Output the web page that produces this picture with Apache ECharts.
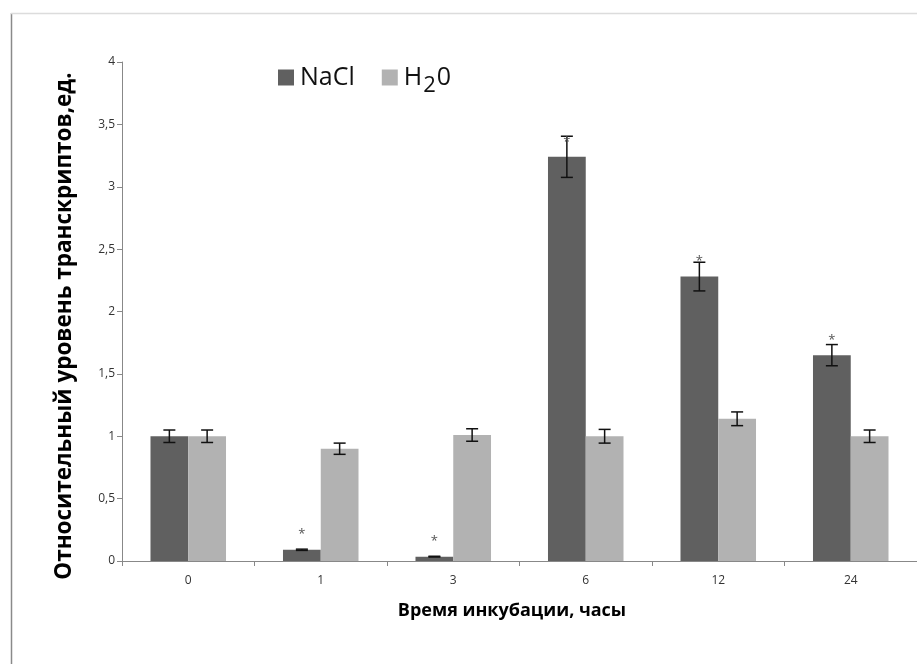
<!DOCTYPE html>
<html><head><meta charset="utf-8">
<script src="https://cdn.jsdelivr.net/npm/echarts@6/dist/echarts.min.js"></script>
<style>html,body{margin:0;padding:0;background:#fff}#c{width:917px;height:664px}</style>
</head><body><div id="c"></div>
<script>
var categories = ['0', '1', '3', '6', '12', '24'];
var naclValues = [1.0, 0.09, 0.035, 3.24, 2.28, 1.65];
var naclErrors = [0.05, 0.005, 0.003, 0.165, 0.115, 0.085];
var h2oValues = [1.0, 0.90, 1.01, 1.0, 1.14, 1.0];
var h2oErrors = [0.05, 0.045, 0.05, 0.055, 0.055, 0.05];
var naclSignificant = [false, true, true, true, true, true];
var yTicks = [0, 0.5, 1, 1.5, 2, 2.5, 3, 3.5, 4];

var FONT = '"Open Sans", "Liberation Sans", sans-serif';
var BAR_PCT = 0.285;
var chart = echarts.init(document.getElementById('c'));

function errorSeries(values, errors, side, flags) {
  return {
    type: 'custom',
    z: 10,
    silent: true,
    data: values.map(function (v, i) { return [i, v - errors[i], v + errors[i], v]; }),
    renderItem: function (params, api) {
      var i = api.value(0);
      var band = api.size([1, 0])[0];
      var off = side * band * BAR_PCT / 2;
      var lo = api.coord([i, api.value(1)]);
      var hi = api.coord([i, api.value(2)]);
      var top = api.coord([i, api.value(3)]);
      var x = lo[0] + off;
      var hw = 6;
      var st = { stroke: '#111', lineWidth: 1.5 };
      var kids = [
        { type: 'line', shape: { x1: x, y1: lo[1], x2: x, y2: hi[1] }, style: st },
        { type: 'line', shape: { x1: x - hw, y1: lo[1], x2: x + hw, y2: lo[1] }, style: st },
        { type: 'line', shape: { x1: x - hw, y1: hi[1], x2: x + hw, y2: hi[1] }, style: st }
      ];
      if (flags && flags[i]) {
        kids.push({ type: 'text', z2: 20, style: { text: '*', x: x, y: top[1] - 15, textAlign: 'center', textVerticalAlign: 'middle', font: '13px ' + FONT, fill: '#555' } });
      }
      return { type: 'group', children: kids };
    }
  };
}

chart.setOption({
  animation: false,
  backgroundColor: '#fff',
  graphic: [
    { type: 'line', shape: { x1: 11.5, y1: 13, x2: 11.5, y2: 700 }, style: { stroke: '#8a8a8a', lineWidth: 1.5 } },
    { type: 'line', shape: { x1: 11, y1: 13.5, x2: 930, y2: 13.5 }, style: { stroke: '#dcdcdc', lineWidth: 1.5 } },
    { type: 'text', style: { text: 'Время инкубации, часы', x: 512, y: 611, textAlign: 'center', textVerticalAlign: 'middle', font: 'bold 18px ' + FONT, fill: '#000' } },
    { type: 'text', x: 65, y: 326, rotation: Math.PI / 2, style: { text: 'Относительный уровень транскриптов,ед.', x: 0, y: 0, textAlign: 'center', textVerticalAlign: 'middle', font: 'bold 22.5px ' + FONT, fill: '#000' } }
  ],
  legend: {
    left: 278, top: 65, padding: 0,
    itemWidth: 16, itemHeight: 16, itemGap: 27,
    icon: 'rect',
    data: ['NaCl', 'H2O'],
    formatter: function (n) { return n === 'H2O' ? '{t|H}{s|2}{t|0}' : '{t|' + n + '}'; },
    textStyle: {
      padding: [0, 0, 0, 1],
      rich: {
        t: { fontSize: 25, color: '#111', fontFamily: FONT },
        s: { fontSize: 22, color: '#111', verticalAlign: 'bottom', padding: [16, 1, 0, 1], fontFamily: FONT }
      }
    }
  },
  grid: { left: 122, top: 62, width: 807, height: 499, containLabel: false },
  xAxis: {
    type: 'category', data: categories,
    axisLine: { lineStyle: { color: '#888', width: 1 } },
    axisTick: { show: true, length: 5, lineStyle: { color: '#888' } },
    axisLabel: { color: '#333', fontSize: 12, margin: 14, fontFamily: FONT }
  },
  yAxis: {
    type: 'value', min: 0, max: 4, interval: 0.5,
    axisLine: { show: true, lineStyle: { color: '#888', width: 1 } },
    axisTick: { show: true, length: 5, lineStyle: { color: '#888' } },
    splitLine: { show: false },
    axisLabel: { color: '#333', fontSize: 12, margin: 7, fontFamily: FONT,
      formatter: function (v) { return String(v).replace('.', ','); } }
  },
  series: [
    { name: 'NaCl', type: 'bar', barWidth: (BAR_PCT * 100) + '%', barGap: '0%',
      itemStyle: { color: '#606060' },
      data: naclValues },
    { name: 'H2O', type: 'bar', barWidth: (BAR_PCT * 100) + '%', barGap: '0%',
      itemStyle: { color: '#b2b2b2' },
      data: h2oValues },
    errorSeries(naclValues, naclErrors, -1, naclSignificant),
    errorSeries(h2oValues, h2oErrors, 1, null)
  ]
});
</script></body></html>
